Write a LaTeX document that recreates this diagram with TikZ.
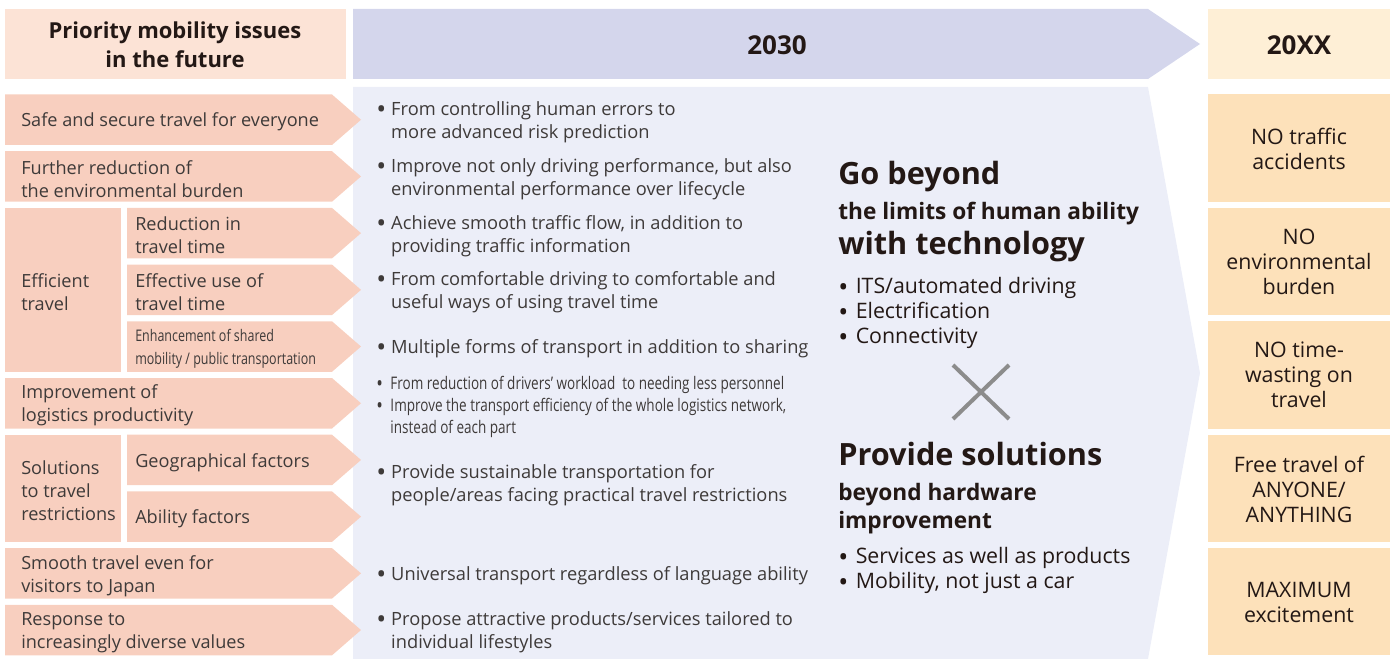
\documentclass[tikz,border=0pt]{standalone}
\usepackage{fontspec}
\setmainfont{Open Sans}
\newfontfamily\narrowfont[FakeStretch=0.78]{Open Sans}
\usetikzlibrary{calc}
\definecolor{headpink}{HTML}{FCE3D6}
\definecolor{issuepink}{HTML}{F8CFBF}
\definecolor{headblue}{HTML}{D4D6EC}
\definecolor{panelblue}{HTML}{ECEEF8}
\definecolor{headcream}{HTML}{FEEFD6}
\definecolor{goalorange}{HTML}{FDE1BA}
\definecolor{inkdark}{HTML}{231815}
\definecolor{inktext}{HTML}{3E3A39}
\definecolor{crossgrey}{HTML}{8C8C8C}
\newcommand{\dotitem}[1][1.45]{\makebox[0.82em][l]{\raisebox{-0.17em}{\scalebox{#1}{\textbullet}}}}
\newcommand{\dotskip}{\hspace*{0.82em}}

\begin{document}
\begin{tikzpicture}[
    x=0.75pt, y=-0.75pt,
    every node/.style={inner sep=0pt, text=inktext},
    headtext/.style={align=center, font=\bfseries\fontsize{16.5}{21.75}\selectfont, text=inkdark},
    issue/.style={anchor=west, align=left, yshift=-1.8pt, font=\fontsize{13.6}{17.25}\selectfont},
    subissue/.style={issue, font=\narrowfont\fontsize{12}{17.25}\selectfont},
    point/.style={anchor=west, align=left, yshift=-1.5pt, font=\fontsize{13.7}{17.25}\selectfont},
    smallpoint/.style={point, font=\narrowfont\fontsize{13}{16.5}\selectfont},
    bigclaim/.style={anchor=base west, font=\bfseries\fontsize{23}{26}\selectfont, text=inkdark},
    midclaim/.style={anchor=base west, font=\bfseries\fontsize{17}{20}\selectfont, text=inkdark},
    claimpoint/.style={anchor=west, align=left, font=\fontsize{16}{18.75}\selectfont, text=inkdark},
    goal/.style={align=center, font=\fontsize{16}{18.75}\selectfont, text=inkdark}
]
\useasboundingbox (0,0) rectangle (1392,659);

% Headers
\fill[headpink] (5,9) rectangle (346,79);
\fill[headblue] (353,9) -- (1148,9) -- (1200,44) -- (1148,79) -- (353,79) -- cycle;
\fill[headcream] (1208,9) rectangle (1390,79);
\node[headtext] (hissues) at (175,45) {Priority mobility issues\\in the future};
\node[headtext, font=\bfseries\fontsize{19.5}{20}\selectfont] (h2030) at (777,45) {2030};
\node[headtext, font=\bfseries\fontsize{19.5}{20}\selectfont] (h20xx) at (1299,45) {20XX};

% 2030 panel
\fill[panelblue] (353,87) -- (1148,87) -- (1200,373) -- (1148,659) -- (353,659) -- cycle;

% Issue arrows
\foreach \t/\l in {94.5/5, 151.2/5, 207.9/127, 264.6/127, 321.3/127, 378/5, 434.7/127, 491.4/127, 548.1/5, 604.8/5}
  \fill[issuepink] (\l,\t) -- (332,\t) -- (361,\t+25.25) -- (332,\t+50.5) -- (\l,\t+50.5) -- cycle;
\fill[issuepink] (5,207.9) rectangle (121,371.8);
\fill[issuepink] (5,434.7) rectangle (121,541.9);

\node[issue] (safe) at (21,119.75) {Safe and secure travel for everyone};
\node[issue] (envir) at (21,176.45) {Further reduction of\\the environmental burden};
\node[issue] (effic) at (21,290) {Efficient\\travel};
\node[issue] (rtime) at (135,233.15) {Reduction in\\travel time};
\node[issue] (utime) at (135,289.85) {Effective use of\\travel time};
\node[subissue] (share) at (135,346.55) {Enhancement of shared\\mobility / public transportation};
\node[issue] (logis) at (21,403.25) {Improvement of\\logistics productivity};
\node[issue] (restr) at (21,488.3) {Solutions\\to travel\\restrictions};
\node[issue] (geo) at (135,460) {Geographical factors};
\node[issue] (abil) at (135,516.65) {Ability factors};
\node[issue] (visit) at (21,573.35) {Smooth travel even for\\visitors to Japan};
\node[issue] (value) at (21,630.05) {Response to\\increasingly diverse values};

% 2030 measures
\node[point] (p1) at (376,120.5) {\dotitem From controlling human errors to\\\dotskip more advanced risk prediction};
\node[point] (p2) at (376,177.5) {\dotitem Improve not only driving performance, but also\\\dotskip environmental performance over lifecycle};
\node[point] (p3) at (376,234) {\dotitem Achieve smooth traffic flow, in addition to\\\dotskip providing traffic information};
\node[point] (p4) at (376,290.5) {\dotitem From comfortable driving to comfortable and\\\dotskip useful ways of using travel time};
\node[point] (p5) at (376,347) {\dotitem Multiple forms of transport in addition to sharing};
\node[smallpoint] (p6) at (376,404.5) {\dotitem[1.3]From reduction of drivers’ workload\ \ to needing less personnel\\\dotitem[1.3]Improve the transport efficiency of the whole logistics network,\\\dotskip instead of each part};
\node[point] (p7) at (376,483.5) {\dotitem Provide sustainable transportation for\\\dotskip people/areas facing practical travel restrictions};
\node[point] (p8) at (376,574) {\dotitem Universal transport regardless of language ability};
\node[point] (p9) at (376,630.5) {\dotitem Propose attractive products/services tailored to\\\dotskip individual lifestyles};

% Claims
\node[bigclaim] (go) at (838,185) {Go beyond};
\node[midclaim] (limits) at (838,220) {the limits of human ability};
\node[bigclaim] (tech) at (838,255) {with technology};
\node[claimpoint] (techlist) at (838,312.5) {\dotitem[1.25]ITS/automated driving\\\dotitem[1.25]Electrification\\\dotitem[1.25]Connectivity};
\draw[crossgrey, line width=3pt] (953,365) -- (1009,419) (953,419) -- (1009,365);
\node[bigclaim] (prov) at (838,465) {Provide solutions};
\node[midclaim] (hard) at (838,500) {beyond hardware};
\node[midclaim] (impr) at (838,528) {improvement};
\node[claimpoint] (servlist) at (838,570) {\dotitem[1.25]Services as well as products\\\dotitem[1.25]Mobility, not just a car};

% 20XX goals
\foreach \t in {94.5, 207.9, 321.3, 434.7, 548.1}
  \fill[goalorange] (1208,\t) rectangle (1390,\t+107.2);
\node[goal] (g1) at (1299,148.5) {NO traffic\\accidents};
\node[goal] (g2) at (1299,262) {NO\\environmental\\burden};
\node[goal] (g3) at (1299,375) {NO time-\\wasting on\\travel};
\node[goal] (g4) at (1299,489) {Free travel of\\ANYONE/\\ANYTHING};
\node[goal] (g5) at (1299,602) {MAXIMUM\\excitement};
\end{tikzpicture}
\end{document}
